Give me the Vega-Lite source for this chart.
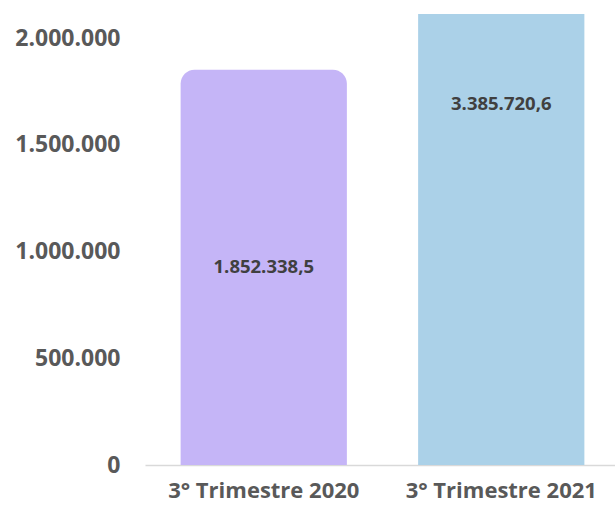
{
  "$schema": "https://vega.github.io/schema/vega-lite/v6.json",
  "width": 475,
  "height": 451,
  "autosize": {"type": "none"},
  "padding": {"left": 145, "top": 14, "right": 0, "bottom": 43},
  "background": "white",
  "config": {"view": {"stroke": null}, "font": "Open Sans"},
  "data": {
    "values": [
      {"periodo": "3° Trimestre 2020", "valor": 1852338.5, "etiqueta": "1.852.338,5"},
      {"periodo": "3° Trimestre 2021", "valor": 3385720.6, "etiqueta": "3.385.720,6"}
    ]
  },
  "transform": [{"calculate": "datum.valor / 2", "as": "medio"}],
  "encoding": {
    "x": {
      "field": "periodo",
      "type": "nominal",
      "sort": null,
      "scale": {"paddingInner": 0.3, "paddingOuter": 0.15},
      "axis": {
        "title": null,
        "labelAngle": 0,
        "labelLimit": 0,
        "labelFont": "Open Sans",
        "labelFontSize": 22,
        "labelFontWeight": "bold",
        "labelColor": "#595959",
        "labelPadding": 15,
        "ticks": false,
        "domainColor": "#d9d9d9",
        "domainWidth": 1.5
      }
    }
  },
  "layer": [
    {
      "mark": {"type": "bar", "clip": true, "cornerRadiusTopLeft": 14, "cornerRadiusTopRight": 14},
      "encoding": {
        "y": {
          "field": "valor",
          "type": "quantitative",
          "stack": null,
          "scale": {"domain": [0, 2113000], "nice": false},
          "axis": {
            "title": null,
            "values": [0, 500000, 1000000, 1500000, 2000000],
            "labelExpr": "replace(format(datum.value, ',d'), /,/g, '.')",
            "labelFont": "Open Sans",
            "labelFontSize": 23,
            "labelFontWeight": "bold",
            "labelColor": "#595959",
            "labelPadding": 25,
            "ticks": false,
            "domain": false,
            "grid": false
          }
        },
        "color": {
          "field": "periodo",
          "type": "nominal",
          "sort": null,
          "scale": {"range": ["#c5b5f7", "#abd1e8"]},
          "legend": null
        }
      }
    },
    {
      "mark": {"type": "text", "font": "Open Sans", "fontSize": 18.5, "fontWeight": "bold", "color": "#404040", "baseline": "middle"},
      "encoding": {
        "y": {"field": "medio", "type": "quantitative"},
        "text": {"field": "etiqueta", "type": "nominal"}
      }
    }
  ]
}
